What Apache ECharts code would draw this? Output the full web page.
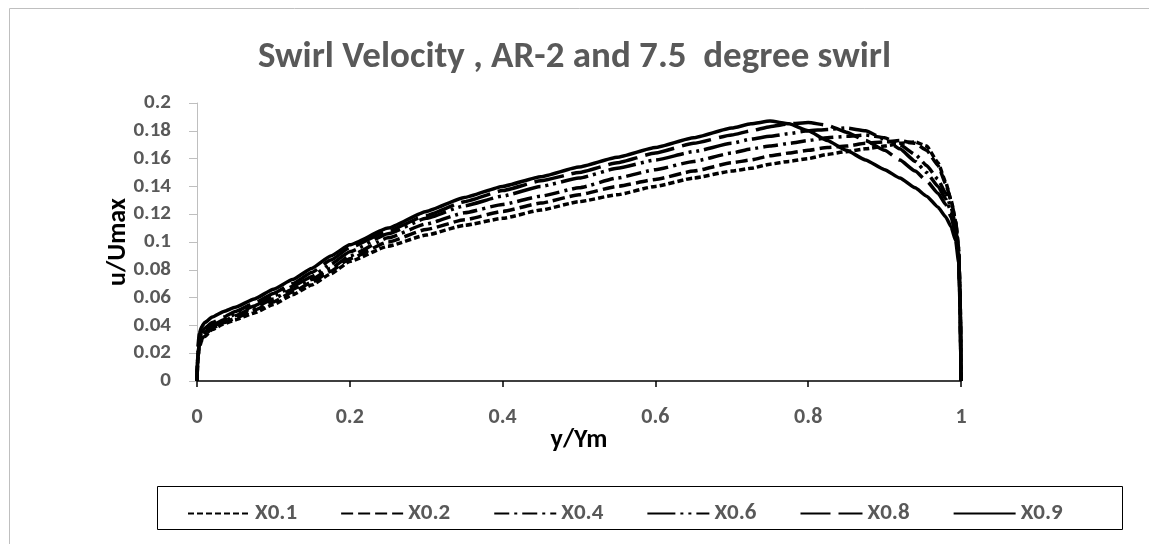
<!DOCTYPE html>
<html>
<head>
<meta charset="utf-8">
<script src="https://cdn.jsdelivr.net/npm/echarts@6/dist/echarts.min.js"></script>
<style>
  html, body { margin: 0; padding: 0; background: #ffffff; }
  #chart { width: 1149px; height: 544px; }
</style>
</head>
<body>
<div id="chart"></div>
<script>
// Normalised position across the channel (y/Ym)
const yPos = [0, 0.001, 0.003, 0.006, 0.01, 0.02, 0.035, 0.05, 0.075, 0.1, 0.125, 0.15, 0.175, 0.2, 0.25, 0.3, 0.35, 0.4, 0.45, 0.5, 0.55, 0.6, 0.65, 0.7, 0.725, 0.75, 0.775, 0.8, 0.825, 0.85, 0.875, 0.9, 0.92, 0.94, 0.955, 0.97, 0.98, 0.987, 0.993, 0.997, 0.999, 1];

// Swirl velocity profiles (u/Umax) at each axial station
const x01 = [0, 0.015, 0.024, 0.029, 0.032, 0.037, 0.041, 0.044, 0.049, 0.055, 0.062, 0.069, 0.077, 0.086, 0.097, 0.105, 0.112, 0.117, 0.123, 0.129, 0.134, 0.140, 0.146, 0.151, 0.153, 0.156, 0.158, 0.160, 0.163, 0.165, 0.167, 0.169, 0.171, 0.172, 0.169, 0.157, 0.143, 0.130, 0.115, 0.095, 0.055, 0];
const x02 = [0, 0.016, 0.025, 0.030, 0.033, 0.038, 0.042, 0.045, 0.051, 0.057, 0.064, 0.071, 0.079, 0.088, 0.100, 0.109, 0.116, 0.122, 0.128, 0.134, 0.140, 0.145, 0.151, 0.157, 0.159, 0.162, 0.164, 0.166, 0.168, 0.169, 0.171, 0.172, 0.173, 0.171, 0.166, 0.155, 0.142, 0.130, 0.115, 0.095, 0.055, 0];
const x04 = [0, 0.017, 0.026, 0.031, 0.034, 0.039, 0.043, 0.047, 0.053, 0.059, 0.066, 0.073, 0.081, 0.090, 0.103, 0.113, 0.121, 0.127, 0.133, 0.139, 0.146, 0.152, 0.158, 0.164, 0.167, 0.169, 0.171, 0.173, 0.175, 0.176, 0.177, 0.175, 0.170, 0.163, 0.155, 0.145, 0.135, 0.125, 0.112, 0.093, 0.055, 0];
const x06 = [0, 0.018, 0.027, 0.032, 0.035, 0.040, 0.044, 0.048, 0.054, 0.061, 0.068, 0.075, 0.084, 0.093, 0.106, 0.117, 0.126, 0.133, 0.140, 0.146, 0.153, 0.159, 0.165, 0.171, 0.174, 0.176, 0.178, 0.180, 0.181, 0.182, 0.180, 0.174, 0.167, 0.158, 0.150, 0.140, 0.131, 0.122, 0.110, 0.092, 0.055, 0];
const x08 = [0, 0.020, 0.030, 0.035, 0.038, 0.042, 0.046, 0.050, 0.056, 0.063, 0.070, 0.078, 0.087, 0.096, 0.108, 0.119, 0.129, 0.137, 0.144, 0.150, 0.157, 0.164, 0.171, 0.177, 0.180, 0.183, 0.185, 0.186, 0.184, 0.179, 0.173, 0.166, 0.159, 0.151, 0.144, 0.135, 0.127, 0.118, 0.106, 0.090, 0.052, 0];
const x09 = [0, 0.024, 0.034, 0.039, 0.042, 0.046, 0.050, 0.053, 0.059, 0.066, 0.073, 0.081, 0.090, 0.098, 0.110, 0.122, 0.132, 0.140, 0.147, 0.154, 0.161, 0.168, 0.175, 0.182, 0.185, 0.187, 0.185, 0.180, 0.173, 0.166, 0.159, 0.152, 0.146, 0.139, 0.133, 0.125, 0.118, 0.111, 0.101, 0.085, 0.050, 0];

const seriesNames = ['X0.1', 'X0.2', 'X0.4', 'X0.6', 'X0.8', 'X0.9'];
const seriesValues = [x01, x02, x04, x06, x08, x09];

// Dash patterns: square dot, dash, dash-dot, long dash-dot-dot, long dash, solid
const dashStyles = [[6, 3], [12, 5], [15, 5, 3, 5], [28, 5, 3, 5, 3, 5], [30, 8], 'solid'];

const xTicks = [0, 0.2, 0.4, 0.6, 0.8, 1];
const yTicks = [0, 0.02, 0.04, 0.06, 0.08, 0.1, 0.12, 0.14, 0.16, 0.18, 0.2];

const FONT = 'Carlito, Lato, "Open Sans", sans-serif';
const GREY = '#595959';

const chart = echarts.init(document.getElementById('chart'), null, { renderer: 'canvas' });

const series = seriesNames.map((name, i) => ({
  name: name,
  type: 'line',
  symbol: 'none',
  smooth: 0.15,
  smoothMonotone: 'x',
  data: yPos.map((p, k) => [p, seriesValues[i][k]]),
  lineStyle: { color: '#000000', width: 3.5, type: dashStyles[i], cap: 'butt' },
  itemStyle: { color: '#000000' },
  emphasis: { disabled: true },
  z: 10 - i
}));

chart.setOption({
  animation: false,
  backgroundColor: '#ffffff',
  title: {
    text: 'Swirl Velocity , AR-2 and 7.5  degree swirl',
    left: 'center',
    top: 34,
    textStyle: { fontFamily: FONT, fontSize: 37, fontWeight: 'bold', color: GREY }
  },
  graphic: [
    { type: 'rect', shape: { x: 9.5, y: 8.5, width: 1160, height: 560 }, style: { fill: 'none', stroke: '#bfbfbf', lineWidth: 1 }, silent: true },
    { type: 'rect', shape: { x: 157.5, y: 486.5, width: 965, height: 43 }, style: { fill: 'none', stroke: '#000000', lineWidth: 1 }, silent: true }
  ],
  legend: {
    data: seriesNames,
    top: 497,
    left: 182,
    itemWidth: 62,
    itemHeight: 14,
    itemGap: 43,
    itemStyle: { opacity: 0 },
    textStyle: { fontFamily: FONT, fontSize: 23, fontWeight: 'bold', color: GREY }
  },
  grid: { left: 197, right: 188, top: 103, bottom: 163, containLabel: false },
  xAxis: {
    type: 'value',
    min: xTicks[0],
    max: xTicks[xTicks.length - 1],
    interval: 0.2,
    name: 'y/Ym',
    nameLocation: 'middle',
    nameGap: 46,
    nameMoveOverlap: false,
    nameTextStyle: { fontFamily: FONT, fontSize: 26, fontWeight: 'bold', color: '#000000' },
    axisLine: { onZero: false, lineStyle: { color: '#000000', width: 1.5 } },
    axisTick: { show: true, length: 6, lineStyle: { color: '#000000', width: 1.5 } },
    axisLabel: { margin: 25, fontFamily: FONT, fontSize: 22, fontWeight: 'bold', color: GREY,
      formatter: v => String(xTicks.find(t => Math.abs(t - v) < 1e-9) ?? v) },
    splitLine: { show: false }
  },
  yAxis: {
    type: 'value',
    min: yTicks[0],
    max: yTicks[yTicks.length - 1],
    interval: 0.02,
    name: 'u/Umax',
    nameLocation: 'middle',
    nameGap: 66,
    nameMoveOverlap: false,
    nameRotate: 90,
    nameTextStyle: { fontFamily: FONT, fontSize: 26, fontWeight: 'bold', color: '#000000' },
    axisLine: { show: true, lineStyle: { color: '#bfbfbf', width: 1 } },
    axisTick: { show: true, length: 8, lineStyle: { color: '#bfbfbf', width: 1 } },
    axisLabel: { margin: 26, fontFamily: FONT, fontSize: 21, fontWeight: 'bold', color: GREY,
      formatter: v => String(yTicks.find(t => Math.abs(t - v) < 1e-9) ?? v) },
    splitLine: { show: false }
  },
  series: series
});
</script>
</body>
</html>
